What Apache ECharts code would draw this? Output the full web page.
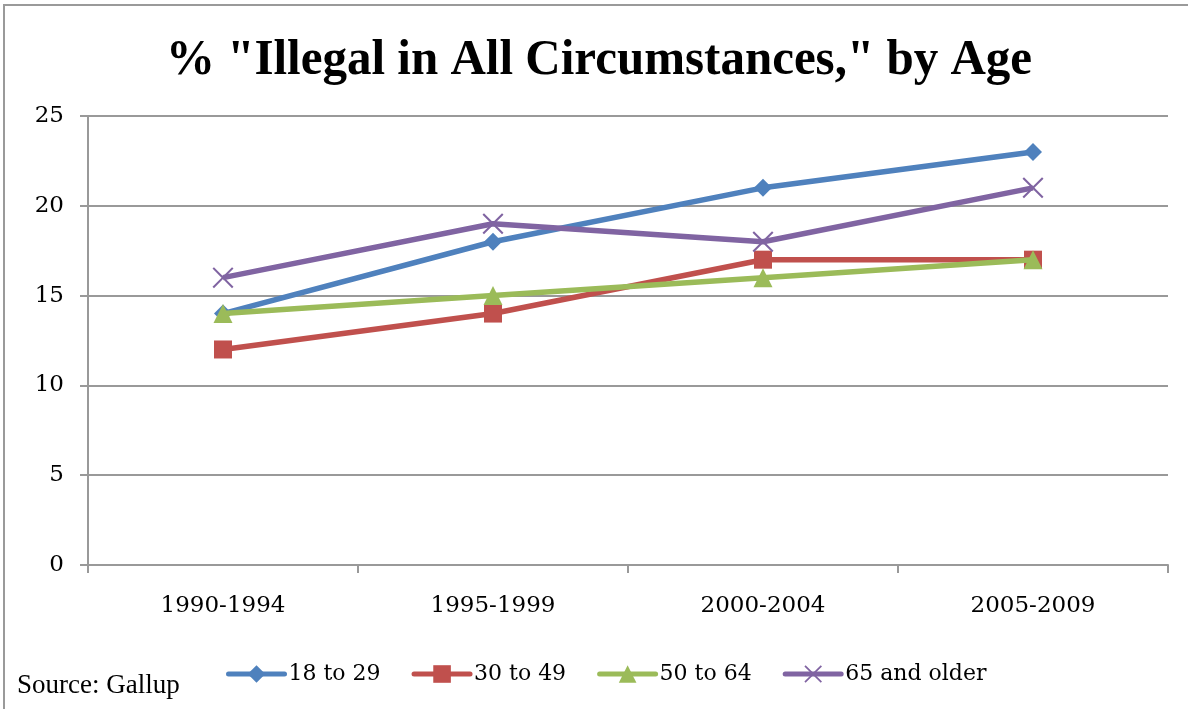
<!DOCTYPE html>
<html><head><meta charset="utf-8">
<script src="https://cdn.jsdelivr.net/npm/echarts@6/dist/echarts.min.js"></script>
<style>html,body{margin:0;padding:0;background:#fff}#c{width:1188px;height:709px}</style>
</head><body><div id="c"></div>
<script>
const categories = ['1990-1994', '1995-1999', '2000-2004', '2005-2009'];
const seriesNames = ['18 to 29', '30 to 49', '50 to 64', '65 and older'];
const age18to29 = [14, 18, 21, 23];
const age30to49 = [12, 14, 17, 17];
const age50to64 = [14, 15, 16, 17];
const age65plus = [16, 19, 18, 21];
const titleText = '% "Illegal in All Circumstances," by Age';
const sourceText = 'Source: Gallup';

const colors = ['#4F81BD', '#C0504D', '#9BBB59', '#8064A2'];
const xPath = 'path://M0,1.4L1.4,0L10,8.6L18.6,0L20,1.4L11.4,10L20,18.6L18.6,20L10,11.4L1.4,20L0,18.6L8.6,10Z';
const symbols = ['diamond', 'rect', 'triangle', xPath];
const symSizes = [18, 18, 19, 21];
const dataSets = [age18to29, age30to49, age50to64, age65plus];

const chart = echarts.init(document.getElementById('c'));
const serif = 'DejaVu Serif';
chart.setOption({
  animation: false,
  graphic: [
    {type: 'rect', shape: {x: 4, y: 5, width: 1300, height: 900}, style: {fill: 'none', stroke: '#9a9a9a', lineWidth: 2}, silent: true, z: -1},
    {type: 'text', x: 599, y: 61, scaleX: 0.98, style: {text: titleText, font: 'bold 50px "Liberation Serif"', fill: '#000', textAlign: 'center', textVerticalAlign: 'middle'}},
    {type: 'text', x: 17, y: 686, style: {text: sourceText, font: '27px "Liberation Serif"', fill: '#000', textAlign: 'left', textVerticalAlign: 'middle'}}
  ],
  legend: {
    data: seriesNames,
    left: 221, top: 658, itemWidth: 56, itemHeight: 22, itemGap: 31,
    lineStyle: {width: 5, cap: 'round'},
    textStyle: {fontFamily: serif, fontSize: 22, color: '#000', padding: [0, 0, 0, -1]}
  },
  grid: {left: 88, right: 20, top: 116, bottom: 144},
  xAxis: {
    type: 'category', data: categories, boundaryGap: true,
    axisLine: {lineStyle: {color: '#999', width: 2}},
    axisTick: {show: true, length: 8, lineStyle: {color: '#999', width: 2}},
    axisLabel: {fontFamily: serif, fontSize: 23, color: '#000', margin: 30}
  },
  yAxis: {
    type: 'value', min: 0, max: 25, interval: 5,
    axisLine: {show: true, lineStyle: {color: '#999', width: 2}},
    axisTick: {show: true, length: 8, lineStyle: {color: '#999', width: 2}},
    splitLine: {lineStyle: {color: '#999', width: 2}},
    axisLabel: {fontFamily: serif, fontSize: 23, color: '#000', margin: 24}
  },
  series: dataSets.map((d, i) => ({
    name: seriesNames[i], type: 'line', data: d,
    symbol: symbols[i], symbolSize: symSizes[i], showSymbol: true,
    lineStyle: {color: colors[i], width: 5.5},
    itemStyle: {color: colors[i], borderWidth: 0},
    z: 2 + i
  }))
});
</script></body></html>
